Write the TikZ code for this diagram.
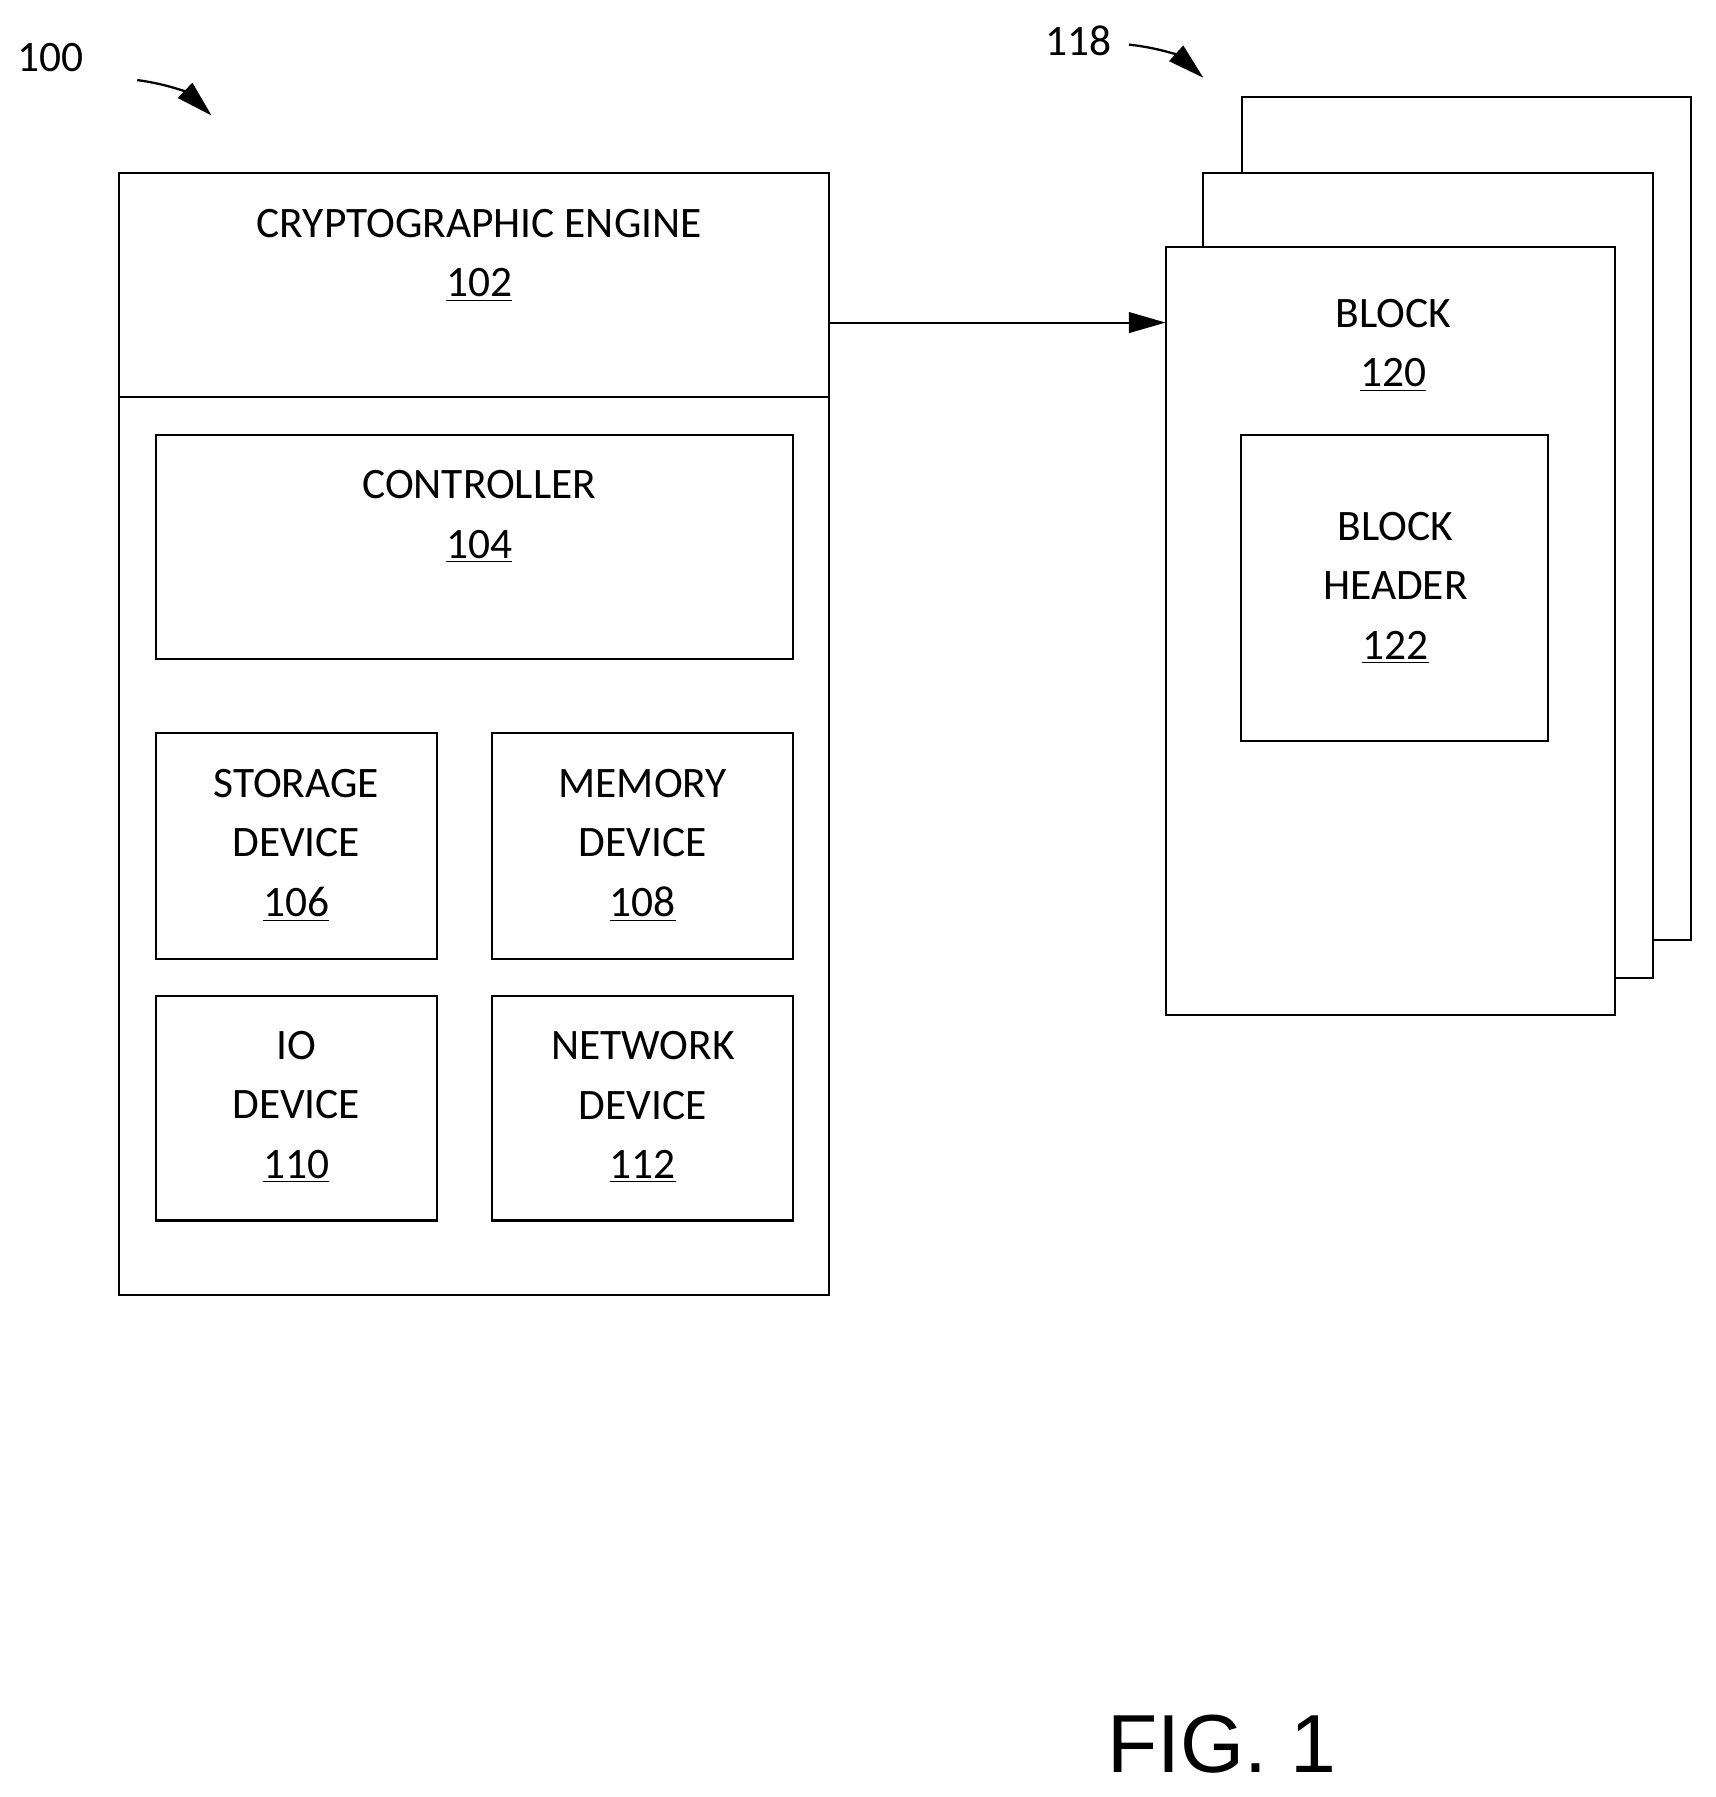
\documentclass[tikz,border=0pt]{standalone}
\usepackage{fontspec}
\setmainfont{Carlito}
\newfontfamily\arialf{Liberation Sans}
\usetikzlibrary{arrows.meta}
\begin{document}
\begin{tikzpicture}[x=0.5pt,y=-0.5pt,
  box/.style={draw,line width=0.9pt,fill=white},
  lbl/.style={align=center,font=\fontsize{19}{26}\selectfont,inner sep=0},
  ref/.style={font=\fontsize{19}{26}\selectfont,inner sep=0},
  >={Triangle[length=16pt,width=9pt]}]
\useasboundingbox (0,0) rectangle (1500,1571);
\draw[box] (104,151) rectangle (725,1132);
\draw[line width=0.9pt] (104,347) -- (725,347);
\node[lbl] (ce) at (419,223) {CRYPTOGRAPHIC ENGINE\\\underline{102}};
\draw[box] (136,380) rectangle (693,576);
\node[lbl] (c) at (419,452) {CONTROLLER\\\underline{104}};
\draw[box] (136,641) rectangle (382,838);
\node[lbl] (s) at (259,739) {STORAGE\\DEVICE\\\underline{106}};
\draw[box] (430,641) rectangle (693,838);
\node[lbl] (m) at (562,739) {MEMORY\\DEVICE\\\underline{108}};
\draw[box] (136,871) rectangle (382,1067);
\node[lbl] (io) at (259,968) {IO\\DEVICE\\\underline{110}};
\draw[box] (430,871) rectangle (693,1067);
\node[lbl] (n) at (562,968) {NETWORK\\DEVICE\\\underline{112}};
\draw[box] (1086,85) rectangle (1478,822);
\draw[box] (1052,151) rectangle (1445,855);
\draw[box] (1019,216) rectangle (1412,887);
\coordinate (bin) at (1019,282);
\coordinate (eout) at (725,282);
\draw[->,line width=0.9pt] (eout) -- (bin);
\node[lbl] (b) at (1218,302) {BLOCK\\\underline{120}};
\draw[box] (1085,380) rectangle (1353,648);
\node[lbl] (h) at (1220,514) {BLOCK\\HEADER\\\underline{122}};
\node[ref] (r100) at (44,50) {100};
\coordinate (a1s) at (120,70); \coordinate (a1e) at (185,101);
\draw[->,line width=1pt] (a1s) to[bend left=18] (a1e);
\node[ref] (r118) at (943,36) {118};
\coordinate (a2s) at (987,39); \coordinate (a2e) at (1052,68);
\draw[->,line width=1pt] (a2s) to[bend left=18] (a2e);
\node[font=\arialf\fontsize{36}{40}\selectfont,inner sep=0] (fig) at (1068,1525) {FIG. 1};
\end{tikzpicture}
\end{document}
